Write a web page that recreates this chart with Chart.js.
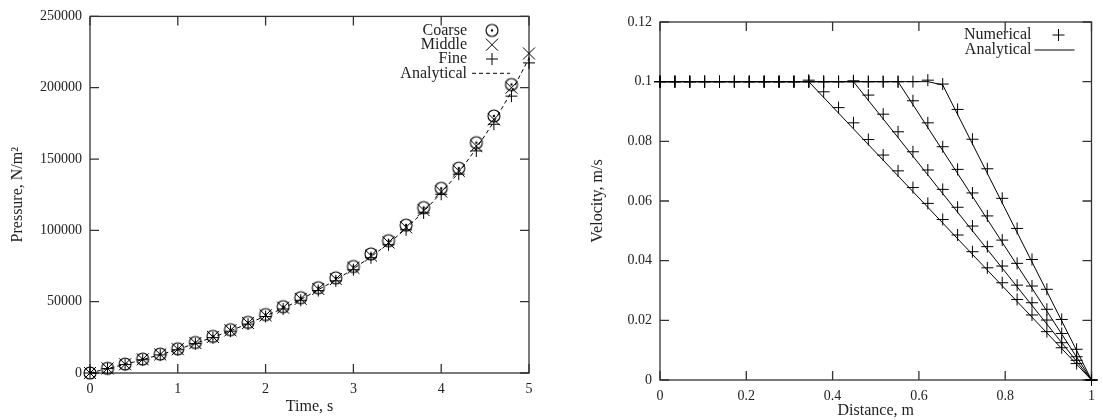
<!DOCTYPE html>
<html>
<head>
<meta charset="utf-8">
<script src="https://cdn.jsdelivr.net/npm/chart.js"></script>
<style>
  body { margin: 0; background: #fff; }
  #wrap { position: relative; width: 1103px; height: 420px; }
  canvas { position: absolute; top: 0; }
  #pressure { left: 0; }
  #velocity { left: 550px; }
</style>
</head>
<body>
<div id="wrap">
  <canvas id="pressure" width="550" height="420"></canvas>
  <canvas id="velocity" width="553" height="420"></canvas>
</div>
<script>
// pressure history, three grids plus the exact curve
var time = [0, 0.2, 0.4, 0.6, 0.8, 1.0, 1.2, 1.4, 1.6, 1.8, 2.0, 2.2, 2.4, 2.6, 2.8, 3.0, 3.2, 3.4, 3.6, 3.8, 4.0, 4.2, 4.4, 4.6, 4.8, 5.0];
var coarse = [0, 3300, 6300, 9800, 13300, 17000, 21400, 25700, 30400, 35500, 41000, 46500, 52800, 59800, 66700, 74700, 83500, 92800, 103700, 116000, 129500, 143600, 161500, 180200, 202300];
var middle = [0, 3200, 6100, 9600, 13000, 16700, 21000, 25300, 29900, 35000, 40400, 45800, 52000, 58900, 65800, 73700, 82300, 91500, 102200, 114200, 127200, 141700, 159200, 177800, 200000, 224000];
var fine = [0, 3100, 5900, 9300, 12700, 16300, 20600, 24800, 29300, 34300, 39600, 44900, 51000, 57800, 64600, 72400, 80800, 89900, 100400, 112200, 125300, 139400, 155700, 174400, 194100, 217400];
var exactP = [0, 3150, 6000, 9450, 12850, 16500, 20800, 25050, 29600, 34650, 40000, 45350, 51500, 58350, 65200, 73050, 81550, 90700, 101300, 113200, 126250, 140550, 157450, 176100, 197050, 220700];
var timeTicks = [0, 1, 2, 3, 4, 5];
var pressureTicks = [0, 50000, 100000, 150000, 200000, 250000];

// velocity profiles at four instants
var distance = [0, 0.0345, 0.069, 0.1034, 0.1379, 0.1724, 0.2069, 0.2414, 0.2759, 0.3103, 0.3448, 0.3793, 0.4138, 0.4483, 0.4828, 0.5172, 0.5517, 0.5862, 0.6207, 0.6552, 0.6897, 0.7241, 0.7586, 0.7931, 0.8276, 0.8621, 0.8966, 0.931, 0.9655, 1];
var num1 = [0.1, 0.1, 0.1, 0.1, 0.1, 0.1, 0.1, 0.1, 0.1, 0.1, 0.1005, 0.0966, 0.0913, 0.0862, 0.0806, 0.0754, 0.0701, 0.0645, 0.0592, 0.0538, 0.0486, 0.0430, 0.0376, 0.0326, 0.0270, 0.0218, 0.0162, 0.0108, 0.0055, 0];
var num2 = [0.1, 0.1, 0.1, 0.1, 0.1, 0.1, 0.1, 0.1, 0.1, 0.1, 0.1, 0.1, 0.1, 0.1003, 0.0955, 0.0891, 0.0832, 0.0765, 0.0704, 0.0639, 0.0579, 0.0516, 0.0447, 0.0382, 0.0318, 0.0259, 0.0201, 0.0125, 0.0066, 0];
var num3 = [0.1, 0.1, 0.1, 0.1, 0.1, 0.1, 0.1, 0.1, 0.1, 0.1, 0.1, 0.1, 0.1, 0.1, 0.1, 0.1, 0.1, 0.0936, 0.0862, 0.0782, 0.0706, 0.0627, 0.0550, 0.0469, 0.0391, 0.0315, 0.0237, 0.0156, 0.0078, 0];
var num4 = [0.1, 0.1, 0.1, 0.1, 0.1, 0.1, 0.1, 0.1, 0.1, 0.1, 0.1, 0.1, 0.1, 0.1, 0.1, 0.1, 0.1, 0.1, 0.1005, 0.0992, 0.0907, 0.0807, 0.0708, 0.0609, 0.0508, 0.0404, 0.0304, 0.0203, 0.0103, 0];
var exX1 = [0, 0.3448, 1], exV1 = [0.1, 0.1, 0];
var exX2 = [0, 0.4483, 1], exV2 = [0.1, 0.1, 0];
var exX3 = [0, 0.5517, 1], exV3 = [0.1, 0.1, 0];
var exX4 = [0, 0.6207, 0.6552, 1], exV4 = [0.1, 0.1, 0.0989, 0];
var distTicks = [0, 0.2, 0.4, 0.6, 0.8, 1];
var velTicks = [0, 0.02, 0.04, 0.06, 0.08, 0.1, 0.12];

var serif = "'Liberation Serif', 'DejaVu Serif', serif";
var ink = '#222';

function pts(xs, ys) {
    return ys.map(function (v, i) { return { x: xs[i], y: v }; });
}

// circle with a dot in the middle
var dotCircle = document.createElement('canvas');
dotCircle.width = 16; dotCircle.height = 16;
(function () {
    var c = dotCircle.getContext('2d');
    c.strokeStyle = '#000'; c.lineWidth = 1.1;
    c.beginPath(); c.arc(8, 8, 6, 0, Math.PI * 2); c.stroke();
    c.fillStyle = '#000';
    c.beginPath(); c.arc(8, 8, 1.2, 0, Math.PI * 2); c.fill();
})();

// frame with inward ticks on all four sides
var gnuBox = {
    id: 'gnuBox',
    beforeDatasetsDraw: function (chart) {
        var ctx = chart.ctx, a = chart.chartArea;
        var sx = chart.scales.x, sy = chart.scales.y;
        ctx.save();
        ctx.strokeStyle = '#333';
        ctx.lineWidth = 1.3;
        ctx.strokeRect(a.left, a.top, a.right - a.left, a.bottom - a.top);
        ctx.beginPath();
        sx.ticks.forEach(function (t) {
            var px = sx.getPixelForValue(t.value);
            ctx.moveTo(px, a.bottom); ctx.lineTo(px, a.bottom - 9);
            ctx.moveTo(px, a.top); ctx.lineTo(px, a.top + 9);
        });
        sy.ticks.forEach(function (t) {
            var py = sy.getPixelForValue(t.value);
            ctx.moveTo(a.left, py); ctx.lineTo(a.left + 9, py);
            ctx.moveTo(a.right, py); ctx.lineTo(a.right - 9, py);
        });
        ctx.stroke();
        ctx.restore();
    }
};

// key in the top right corner: text first, sample after it
var gnuKey = {
    id: 'gnuKey',
    afterDatasetsDraw: function (chart, args, o) {
        var ctx = chart.ctx, a = chart.chartArea;
        ctx.save();
        ctx.font = '16px ' + serif;
        ctx.fillStyle = ink;
        ctx.textAlign = 'right';
        ctx.textBaseline = 'middle';
        o.items.forEach(function (it, i) {
            var y = a.top + o.top + i * o.rowH;
            ctx.fillText(it.text, a.right - o.textRight, y);
            ctx.strokeStyle = '#000';
            ctx.lineWidth = 1;
            if (it.line) {
                ctx.setLineDash(it.dash || []);
                ctx.beginPath();
                ctx.moveTo(a.right - o.lineFrom, y);
                ctx.lineTo(a.right - o.lineTo, y);
                ctx.stroke();
                ctx.setLineDash([]);
            } else {
                var ds = chart.data.datasets[it.ds];
                ctx.lineWidth = ds.borderWidth || 1;
                Chart.helpers.drawPoint(ctx, {
                    pointStyle: ds.pointStyle, radius: ds.pointRadius,
                    borderWidth: ds.borderWidth || 1, rotation: 0
                }, a.right - o.markX, y);
            }
        });
        ctx.restore();
    }
};

function fixTicks(list) {
    return function (scale) {
        scale.ticks = list.map(function (v) { return { value: v }; });
    };
}

function axis(min, max, list, title, size, titlePad) {
    return {
        type: 'linear', min: min, max: max,
        grid: { display: false, drawTicks: false },
        border: { display: false },
        afterBuildTicks: fixTicks(list),
        afterFit: function (s) {
            if (s.isHorizontal()) s.height = size; else s.width = size;
        },
        ticks: {
            color: ink, font: { family: serif, size: 14 }, padding: 8,
            maxRotation: 0, autoSkip: false,
            callback: function (v) { return String(v); }
        },
        title: {
            display: true, text: title, color: ink,
            font: { family: serif, size: 16 }, padding: titlePad
        }
    };
}

new Chart('pressure', {
    type: 'scatter',
    data: {
        datasets: [
            {
                label: 'Analytical', data: pts(time, exactP), showLine: true,
                borderColor: '#000', borderWidth: 1, borderDash: [4, 3],
                pointRadius: 0, clip: false
            },
            {
                label: 'Coarse', data: pts(time, coarse), pointStyle: dotCircle,
                pointRadius: 6, borderColor: '#000', clip: false
            },
            {
                label: 'Middle', data: pts(time, middle), pointStyle: 'crossRot',
                pointRadius: 8.5, borderWidth: 1, borderColor: '#000', clip: false
            },
            {
                label: 'Fine', data: pts(time, fine), pointStyle: 'cross',
                pointRadius: 6, borderWidth: 1, borderColor: '#000', clip: false
            }
        ]
    },
    options: {
        responsive: false, animation: false, devicePixelRatio: 1,
        layout: { padding: { top: 15, right: 21, left: 0, bottom: 0 } },
        scales: {
            x: axis(0, 5, timeTicks, 'Time, s', 47, { top: 0, bottom: 4 }),
            y: axis(0, 250000, pressureTicks, 'Pressure, N/m²', 90, { top: 8, bottom: 0 })
        },
        plugins: {
            legend: { display: false },
            tooltip: { enabled: false },
            gnuKey: {
                top: 14, rowH: 14.3, textRight: 62, markX: 37, lineFrom: 57, lineTo: 19,
                items: [
                    { text: 'Coarse', ds: 1 },
                    { text: 'Middle', ds: 2 },
                    { text: 'Fine', ds: 3 },
                    { text: 'Analytical', line: true, dash: [4, 3] }
                ]
            }
        }
    },
    plugins: [gnuBox, gnuKey]
});

function numSet(vals) {
    return {
        label: 'Numerical', data: pts(distance, vals), pointStyle: 'cross',
        pointRadius: 6, borderWidth: 1, borderColor: '#000', clip: false
    };
}
function exSet(xs, vs) {
    return {
        label: 'Analytical', data: pts(xs, vs), showLine: true,
        borderColor: '#000', borderWidth: 1, pointRadius: 0, clip: false
    };
}

new Chart('velocity', {
    type: 'scatter',
    data: {
        datasets: [
            numSet(num1), numSet(num2), numSet(num3), numSet(num4),
            exSet(exX1, exV1), exSet(exX2, exV2), exSet(exX3, exV3), exSet(exX4, exV4)
        ]
    },
    options: {
        responsive: false, animation: false, devicePixelRatio: 1,
        layout: { padding: { top: 22, right: 4, left: 0, bottom: 0 } },
        scales: {
            x: axis(0, 1, distTicks, 'Distance, m', 40, { top: 0, bottom: 0 }),
            y: axis(0, 0.12, velTicks, 'Velocity, m/s', 110, { top: 38, bottom: 0 })
        },
        plugins: {
            legend: { display: false },
            tooltip: { enabled: false },
            gnuKey: {
                top: 13, rowH: 15, textRight: 60, markX: 33, lineFrom: 57, lineTo: 17,
                items: [
                    { text: 'Numerical', ds: 0 },
                    { text: 'Analytical', line: true }
                ]
            }
        }
    },
    plugins: [gnuBox, gnuKey]
});
</script>
</body>
</html>
